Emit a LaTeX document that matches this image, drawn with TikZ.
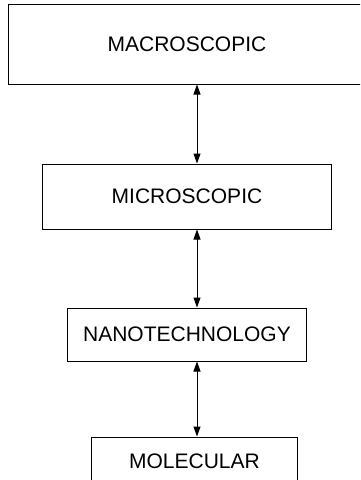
\documentclass[tikz,border=0pt]{standalone}
\usepackage{fontspec}
\setmainfont{Liberation Sans}
\usetikzlibrary{positioning,arrows.meta}

\begin{document}
\begin{tikzpicture}[x=1pt, y=-1pt,
    level/.style = {draw, line width=1pt, inner sep=0pt,
                    font=\fontsize{21}{25}\selectfont},
    link/.style  = {line width=1pt,
                    {Triangle[length=10pt,width=7pt]}-{Triangle[length=10pt,width=7pt]}}]
  \useasboundingbox (0,0) rectangle (360,480);
  \clip (0,0) rectangle (360,480);

  \node[level, minimum width=358pt, minimum height=80pt] (macro) at (187,44) {MACROSCOPIC};
  \node[level, minimum width=289pt, minimum height=65pt, below=79pt of macro] (micro) {MICROSCOPIC};
  \node[level, minimum width=239pt, minimum height=53pt, below=78pt of micro] (nano) {NANOTECHNOLOGY};
  \node[level, minimum width=206pt, minimum height=48pt, below=75pt of nano, xshift=7.5pt] (mol) {MOLECULAR};

  \coordinate (axis) at (197,0);

  \draw[link] (macro.south -| axis) -- (micro.north -| axis);
  \draw[link] (micro.south -| axis) -- (nano.north -| axis);
  \draw[link] (nano.south -| axis) -- (mol.north -| axis);
\end{tikzpicture}
\end{document}
